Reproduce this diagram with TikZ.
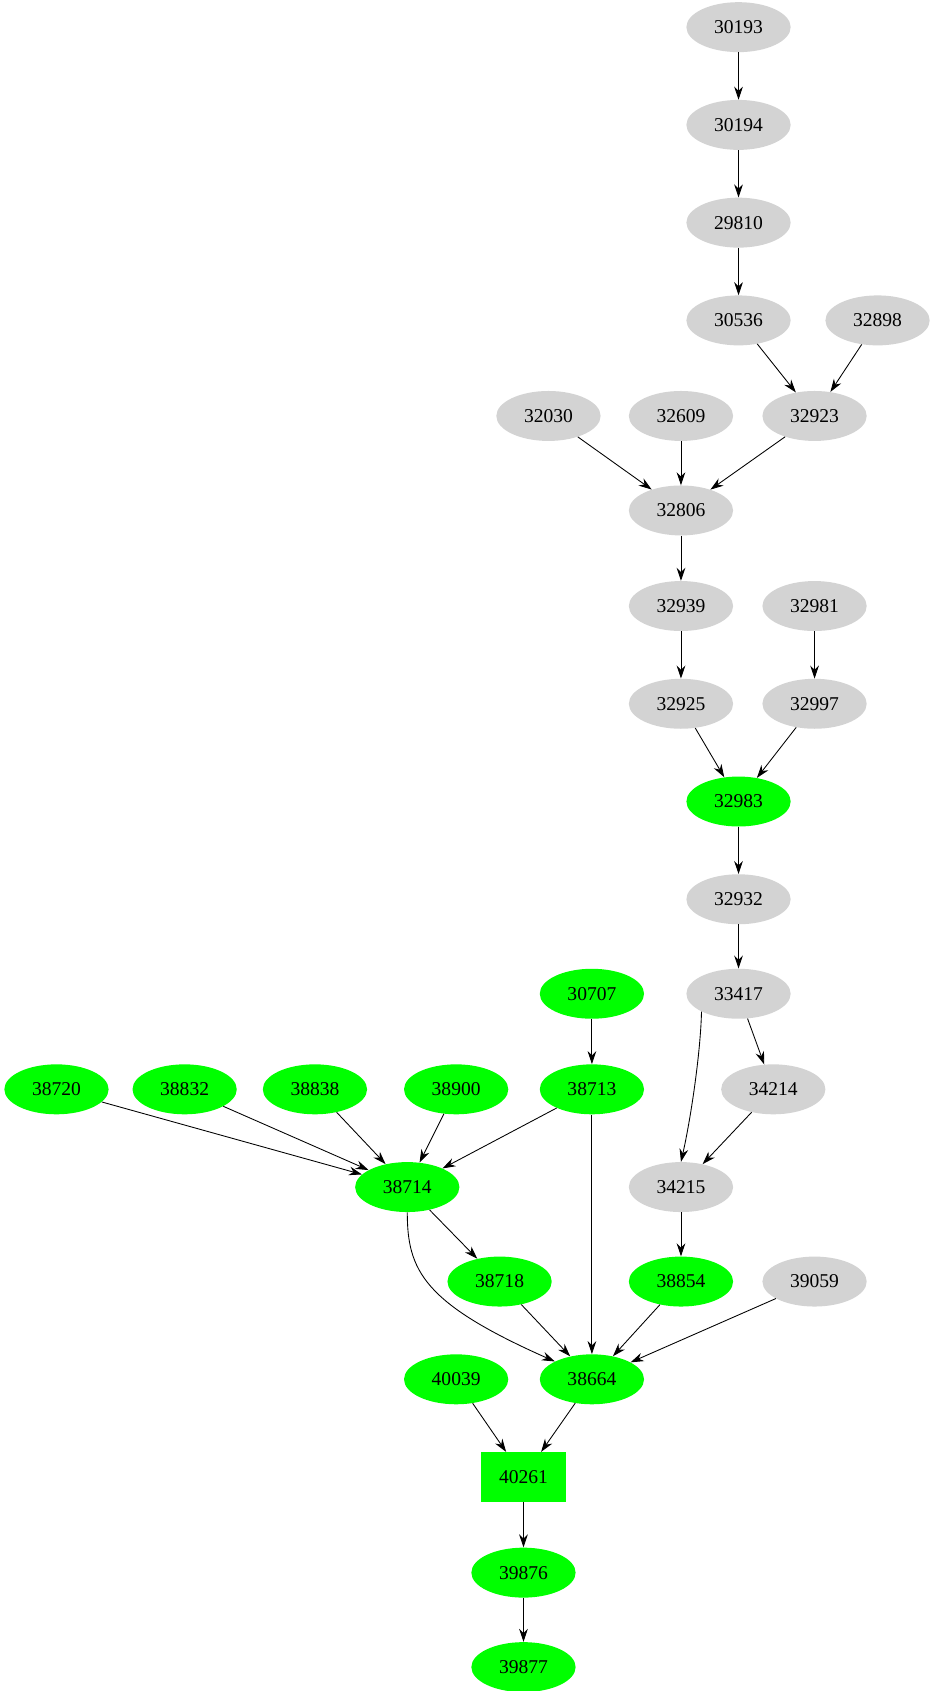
\documentclass[tikz,border=0pt]{standalone}
\usepackage{fontspec}
\setmainfont{Liberation Serif}
\usetikzlibrary{arrows.meta,shapes.geometric}
\begin{document}
\begin{tikzpicture}[x=1pt,y=-1pt,
  nd/.style={ellipse,minimum width=96pt,minimum height=46pt,inner sep=0pt,font=\fontsize{18}{20}\selectfont},
  gr/.style={nd,fill={rgb,255:red,211;green,211;blue,211}},
  gn/.style={nd,fill={rgb,255:red,0;green,255;blue,0}},
  bx/.style={rectangle,minimum width=78pt,minimum height=46pt,inner sep=0pt,fill={rgb,255:red,0;green,255;blue,0},font=\fontsize{18}{20}\selectfont},
  ed/.style={-{Stealth[length=12pt,width=8pt]},line width=0.8pt}]
\useasboundingbox (0,0) rectangle (860,1557);
\node[gr] (n30193) at (680,25) {30193};
\node[gr] (n30194) at (680,115) {30194};
\node[gr] (n29810) at (680,205) {29810};
\node[gr] (n30536) at (680,295) {30536};
\node[gr] (n32898) at (808,295) {32898};
\node[gr] (n32030) at (505,383) {32030};
\node[gr] (n32609) at (627,383) {32609};
\node[gr] (n32923) at (750,383) {32923};
\node[gr] (n32806) at (627,470) {32806};
\node[gr] (n32939) at (627,558) {32939};
\node[gr] (n32981) at (750,558) {32981};
\node[gr] (n32925) at (627,648) {32925};
\node[gr] (n32997) at (750,648) {32997};
\node[gn] (n32983) at (680,738) {32983};
\node[gr] (n32932) at (680,828) {32932};
\node[gn] (n30707) at (545,915) {30707};
\node[gr] (n33417) at (680,915) {33417};
\node[gn] (n38720) at (52,1003) {38720};
\node[gn] (n38832) at (170,1003) {38832};
\node[gn] (n38838) at (290,1003) {38838};
\node[gn] (n38900) at (420,1003) {38900};
\node[gn] (n38713) at (545,1003) {38713};
\node[gr] (n34214) at (712,1003) {34214};
\node[gn] (n38714) at (375,1093) {38714};
\node[gr] (n34215) at (627,1093) {34215};
\node[gn] (n38718) at (460,1180) {38718};
\node[gn] (n38854) at (627,1180) {38854};
\node[gr] (n39059) at (750,1180) {39059};
\node[gn] (n40039) at (420,1270) {40039};
\node[gn] (n38664) at (545,1270) {38664};
\node[bx] (n40261) at (482,1360) {40261};
\node[gn] (n39876) at (482,1448) {39876};
\node[gn] (n39877) at (482,1535) {39877};
\draw[ed] (n30193)--(n30194);
\draw[ed] (n30194)--(n29810);
\draw[ed] (n29810)--(n30536);
\draw[ed] (n30536)--(n32923);
\draw[ed] (n32898)--(n32923);
\draw[ed] (n32030)--(n32806);
\draw[ed] (n32609)--(n32806);
\draw[ed] (n32923)--(n32806);
\draw[ed] (n32806)--(n32939);
\draw[ed] (n32939)--(n32925);
\draw[ed] (n32981)--(n32997);
\draw[ed] (n32925)--(n32983);
\draw[ed] (n32997)--(n32983);
\draw[ed] (n32983)--(n32932);
\draw[ed] (n32932)--(n33417);
\draw[ed] (n30707)--(n38713);
\draw[ed] (n33417)--(n34214);
\draw[ed] (n33417.south west) .. controls (645,970) and (636,1030) .. (n34215.north);
\draw[ed] (n34214)--(n34215);
\draw[ed] (n38720)--(n38714);
\draw[ed] (n38832)--(n38714);
\draw[ed] (n38838)--(n38714);
\draw[ed] (n38900)--(n38714);
\draw[ed] (n38713)--(n38714);
\draw[ed] (n38713)--(n38664);
\draw[ed] (n38714)--(n38718);
\draw[ed] (n38714.south) .. controls (375,1170) and (390,1200) .. (n38664.north west);
\draw[ed] (n34215)--(n38854);
\draw[ed] (n38718)--(n38664);
\draw[ed] (n38854)--(n38664);
\draw[ed] (n39059)--(n38664);
\draw[ed] (n40039)--(n40261);
\draw[ed] (n38664)--(n40261);
\draw[ed] (n40261)--(n39876);
\draw[ed] (n39876)--(n39877);
\end{tikzpicture}
\end{document}
